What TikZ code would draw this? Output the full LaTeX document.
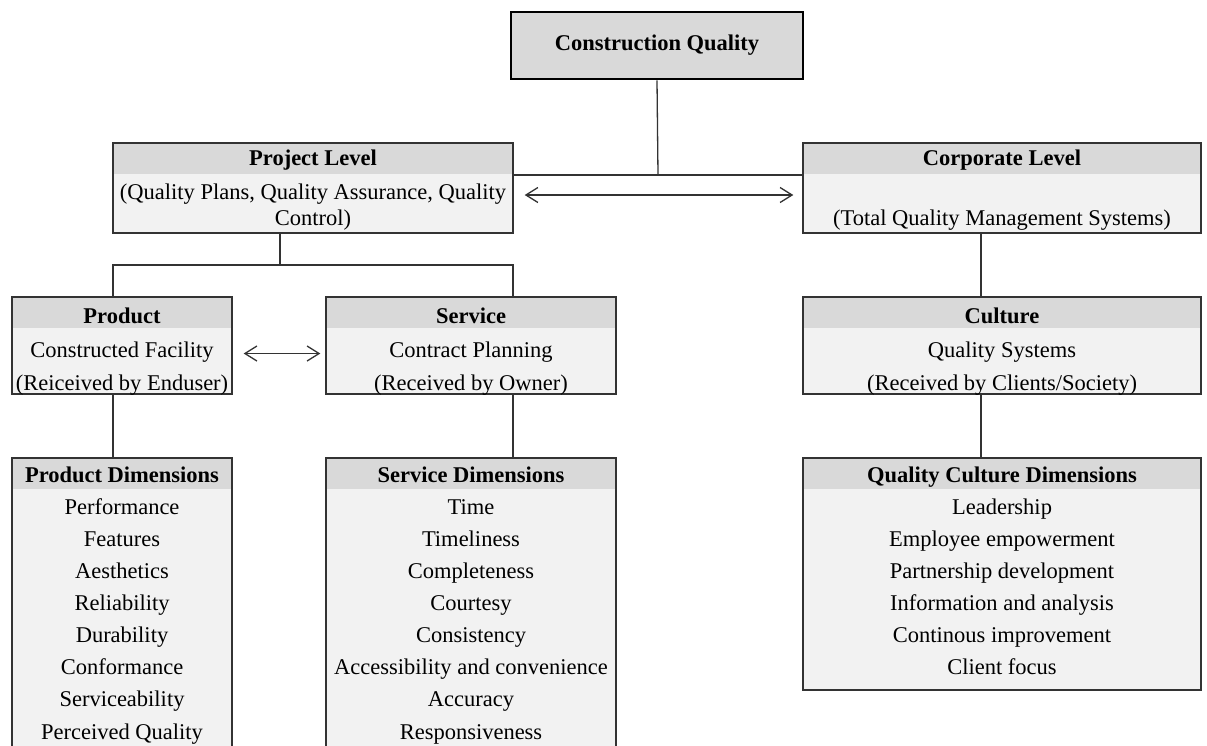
\documentclass[tikz,border=0pt]{standalone}
\usepackage{fontspec}
\setmainfont{Liberation Serif}
\usepackage{tikz}
\usepackage{xcolor}
\usetikzlibrary{arrows.meta}

\definecolor{headgray}{HTML}{D9D9D9}
\definecolor{bodygray}{HTML}{F2F2F2}
\definecolor{linegray}{HTML}{333333}

\begin{document}
\begin{tikzpicture}[x=1pt, y=-1pt,
  every node/.style={font=\fontsize{22.5}{27}\selectfont},
  topbox/.style={draw=black, line width=2.6pt, fill=headgray, minimum width=292pt, minimum height=67pt, inner sep=0pt, font=\fontsize{22.5}{27}\selectfont\bfseries},
  panel/.style={draw=linegray, line width=1.4pt, fill=bodygray, inner sep=0pt,
    path picture={\fill[headgray] (path picture bounding box.north west) rectangle ([yshift=-31pt]path picture bounding box.north east);}},
  hd/.style={anchor=base, inner sep=0pt, font=\fontsize{22.5}{27}\selectfont\bfseries},
  item/.style={anchor=base, inner sep=0pt},
  link/.style={draw=linegray, line width=1.3pt},
  dbl/.style={link, {Straight Barb[length=12pt,width=15pt]}-{Straight Barb[length=12pt,width=15pt]}}]
\useasboundingbox (0,0) rectangle (1207,745);
\clip (0,0) rectangle (1207,745);

\node[topbox] (cq) at (657,45.5) {Construction Quality};

\node[panel, minimum width=400pt, minimum height=90pt] (proj) at (313,188) {};
\node[panel, minimum width=398pt, minimum height=90pt] (corp) at (1002,188) {};
\node[panel, minimum width=220pt, minimum height=97pt] (prod) at (122,345.5) {};
\node[panel, minimum width=290pt, minimum height=97pt] (serv) at (471,345.5) {};
\node[panel, minimum width=398pt, minimum height=97pt] (cult) at (1002,345.5) {};
\node[panel, minimum width=220pt, minimum height=312pt] (pdim) at (122,614) {};
\node[panel, minimum width=290pt, minimum height=312pt] (sdim) at (471,614) {};
\node[panel, minimum width=398pt, minimum height=232pt] (qdim) at (1002,574) {};

\node[hd] (projt) at (313,165) {Project Level};
\node[item] (proja) at (313,199) {(Quality Plans, Quality Assurance, Quality};
\node[item] (projb) at (313,225) {Control)};
\node[hd] (corpt) at (1002,165) {Corporate Level};
\node[item] (corpa) at (1002,225) {(Total Quality Management Systems)};

\node[hd] (prodt) at (122,323) {Product};
\node[item] (proda) at (122,357) {Constructed Facility};
\node[item] (prodb) at (122,390) {(Reiceived by Enduser)};
\node[hd] (servt) at (471,323) {Service};
\node[item] (serva) at (471,357) {Contract Planning};
\node[item] (servb) at (471,390) {(Received by Owner)};
\node[hd] (cultt) at (1002,323) {Culture};
\node[item] (culta) at (1002,357) {Quality Systems};
\node[item] (cultb) at (1002,390) {(Received by Clients/Society)};

\node[hd] (pdimt) at (122,482) {Product Dimensions};
\foreach \t [count=\i] in {Performance, Features, Aesthetics, Reliability, Durability, Conformance, Serviceability, Perceived Quality}
  \node[item] (pd\i) at (122,{482+32.14*\i}) {\t};
\node[hd] (sdimt) at (471,482) {Service Dimensions};
\foreach \t [count=\i] in {Time, Timeliness, Completeness, Courtesy, Consistency, Accessibility and convenience, Accuracy, Responsiveness}
  \node[item] (sd\i) at (471,{482+32.14*\i}) {\t};
\node[hd] (qdimt) at (1002,482) {Quality Culture Dimensions};
\foreach \t [count=\i] in {Leadership, Employee empowerment, Partnership development, Information and analysis, Continous improvement, Client focus}
  \node[item] (qd\i) at (1002,{482+32.14*\i}) {\t};

\coordinate (top) at (658,175);
\coordinate (fork) at (280,265);
\coordinate (pj) at (113,265);
\coordinate (sj) at (513,265);
\coordinate (cj) at (981,265);

\draw[link] (cq.south) -- (top);
\draw[link] (top -| proj.east) -- (top -| corp.west);
\draw[dbl] ([shift={(11,7)}]proj.east) -- ([shift={(-9,7)}]corp.west);
\draw[link] (fork |- proj.south) -- (fork);
\draw[link] (pj |- prod.north) -- (pj) -- (sj) -- (sj |- serv.north);
\draw[dbl] ([shift={(11,8)}]prod.east) -- ([shift={(-5,8)}]serv.west);
\draw[link] (cj |- corp.south) -- (cj |- cult.north);
\draw[link] (pj |- prod.south) -- (pj |- pdim.north);
\draw[link] (sj |- serv.south) -- (sj |- sdim.north);
\draw[link] (cj |- cult.south) -- (cj |- qdim.north);
\end{tikzpicture}
\end{document}
